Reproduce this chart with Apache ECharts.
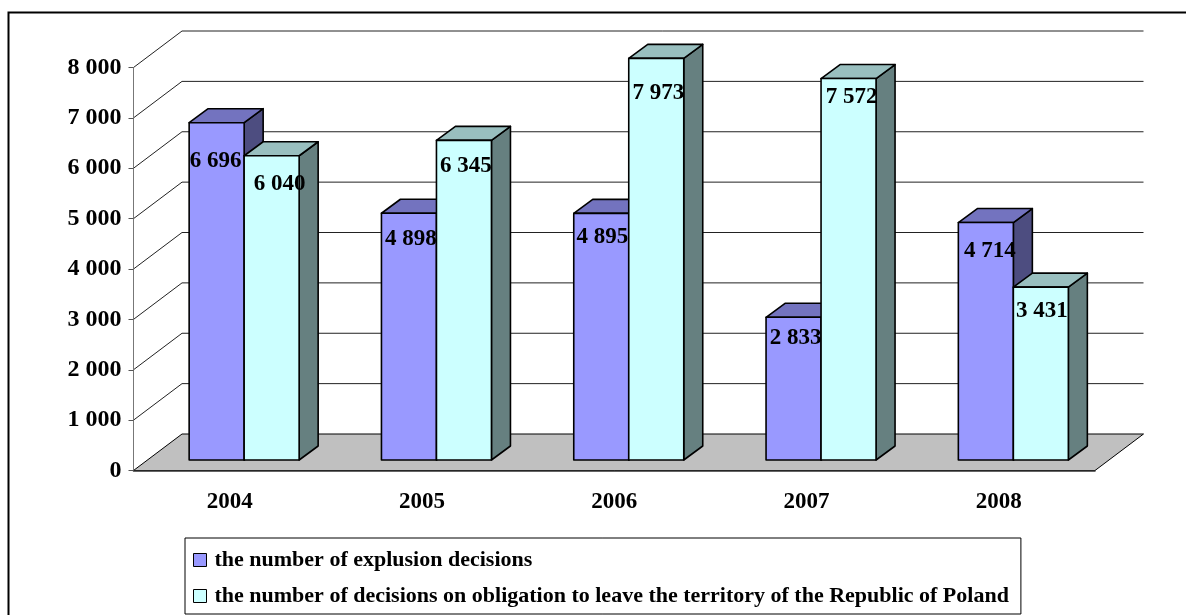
<!DOCTYPE html>
<html>
<head>
<meta charset="utf-8">
<title>Decisions 2004-2008</title>
<script src="https://cdn.jsdelivr.net/npm/echarts@6/dist/echarts.min.js"></script>
<style>
  html, body { margin: 0; padding: 0; background: #fff; }
  #chart { width: 1186px; height: 615px; }
</style>
</head>
<body>
<div id="chart"></div>
<script>
const categories = ['2004', '2005', '2006', '2007', '2008'];
const expulsionDecisions = [6696, 4898, 4895, 2833, 4714];
const obligationDecisions = [6040, 6345, 7973, 7572, 3431];
const yTicks = [1000, 2000, 3000, 4000, 5000, 6000, 7000, 8000];
const expulsionName = 'the number of explusion decisions';
const obligationName = 'the number of decisions on obligation to leave the territory of the Republic of Poland';

// hand placed label offsets from the bar top centre [dx, dy], the original has them uneven
const expulsionLabelShift = [[-1, 38], [2, 26], [1, 24], [2, 21], [4, 29]];
const obligationLabelShift = [[8, 28], [2, 26], [2, 35], [3, 19], [1, 24]];

const FONT = '"Liberation Serif", "Times New Roman", serif';
const WALL_DX = 48.5, WALL_DY = -36.5; // depth of the floor
const BAR_W = 55, BAR_SHIFT_X = 14.5, BAR_SHIFT_Y = -10.5; // bars stand inside the floor
const BAR_DX = 19, BAR_DY = -14;

const chart = echarts.init(document.getElementById('chart'));

const formatNumber = v => String(v).replace(/\B(?=(\d{3})+$)/g, ' ');

function face(points, fill) {
    return {
        type: 'polygon',
        shape: { points },
        style: { fill, stroke: '#000', lineWidth: 1.6, lineJoin: 'round' }
    };
}

// one 3D bar series, side: -1 is left of the category centre, 0 is right of it
function barRenderer(side, colors, labelShift) {
    return (params, api) => {
        const i = api.value(0);
        const top = api.coord([i, api.value(1)]);
        const base = api.coord([i, 0]);
        const x0 = top[0] + BAR_SHIFT_X + side * BAR_W;
        const x1 = x0 + BAR_W;
        const y0 = top[1] + BAR_SHIFT_Y;
        const y1 = base[1] + BAR_SHIFT_Y;
        const shift = labelShift[i];
        return {
            type: 'group',
            children: [
                face([[x1, y0], [x1 + BAR_DX, y0 + BAR_DY], [x1 + BAR_DX, y1 + BAR_DY], [x1, y1]], colors.side),
                face([[x0, y0], [x0 + BAR_DX, y0 + BAR_DY], [x1 + BAR_DX, y0 + BAR_DY], [x1, y0]], colors.top),
                face([[x0, y0], [x1, y0], [x1, y1], [x0, y1]], colors.front),
                {
                    type: 'text',
                    z2: 10,
                    style: {
                        x: (x0 + x1) / 2 + shift[0],
                        y: y0 + shift[1],
                        text: formatNumber(api.value(1)),
                        fill: '#000',
                        font: 'bold 23px ' + FONT,
                        align: 'center',
                        verticalAlign: 'middle'
                    }
                }
            ]
        };
    };
}

const option = {
    animation: false,
    backgroundColor: '#fff',
    graphic: [{
        type: 'polyline',
        silent: true,
        shape: { points: [[8.5, 615], [8.5, 12.5], [1186, 12.5]] },
        style: { fill: 'none', stroke: '#000', lineWidth: 2 }
    }],
    legend: {
        data: [expulsionName, obligationName],
        orient: 'vertical',
        left: 185,
        top: 538,
        padding: [11, 12, 7, 8],
        itemGap: 14,
        itemWidth: 13,
        itemHeight: 13,
        icon: 'rect',
        borderColor: '#000',
        borderWidth: 1,
        backgroundColor: '#fff',
        itemStyle: { borderColor: '#000', borderWidth: 1 },
        selectedMode: false,
        textStyle: { fontFamily: FONT, fontWeight: 'bold', fontSize: 22, color: '#000', padding: [0, 0, 0, 3] }
    },
    grid: { left: 133.5, right: 91, top: 67.5, bottom: 144.5 },
    xAxis: {
        type: 'category',
        data: categories,
        z: 3,
        axisLine: { lineStyle: { color: '#333', width: 1.5 } },
        axisTick: { length: 6, lineStyle: { color: '#555' } },
        axisLabel: { margin: 20, fontFamily: FONT, fontWeight: 'bold', fontSize: 23, color: '#000' }
    },
    yAxis: {
        type: 'value',
        min: 0,
        max: 8000,
        interval: 1000,
        z: 3,
        splitLine: { show: false },
        axisLine: { show: true, lineStyle: { color: '#777' } },
        axisTick: { show: true, length: 5, lineStyle: { color: '#555' } },
        axisLabel: { margin: 12, fontFamily: FONT, fontWeight: 'bold', fontSize: 24, color: '#000', formatter: formatNumber }
    },
    series: [
        {
            // the floor
            type: 'custom',
            name: 'floor',
            silent: true,
            clip: false,
            data: [[0, 0]],
            encode: { x: 0, y: 1 },
            renderItem: (params, api) => {
                const r = params.coordSys;
                const b = r.y + r.height;
                const floor = face([
                    [r.x, b],
                    [r.x + WALL_DX, b + WALL_DY],
                    [r.x + r.width + WALL_DX, b + WALL_DY],
                    [r.x + r.width, b]
                ], '#C0C0C0');
                floor.style.lineWidth = 1;
                return floor;
            }
        },
        {
            // grid lines bent along the left wall and the back wall
            type: 'custom',
            name: 'wall',
            silent: true,
            clip: false,
            data: yTicks.map(v => [0, v]),
            encode: { x: 0, y: 1 },
            renderItem: (params, api) => {
                const r = params.coordSys;
                const y = api.coord([0, api.value(1)])[1];
                return {
                    type: 'polyline',
                    shape: {
                        points: [
                            [r.x, y],
                            [r.x + WALL_DX, y + WALL_DY],
                            [r.x + r.width + WALL_DX, y + WALL_DY]
                        ]
                    },
                    style: { fill: 'none', stroke: '#222', lineWidth: 1 }
                };
            }
        },
        {
            type: 'custom',
            name: expulsionName,
            clip: false,
            itemStyle: { color: '#9999FF' },
            data: expulsionDecisions.map((v, i) => [i, v]),
            encode: { x: 0, y: 1 },
            renderItem: barRenderer(-1, { front: '#9999FF', top: '#7373BF', side: '#4D4D80' }, expulsionLabelShift)
        },
        {
            type: 'custom',
            name: obligationName,
            clip: false,
            itemStyle: { color: '#CCFFFF' },
            data: obligationDecisions.map((v, i) => [i, v]),
            encode: { x: 0, y: 1 },
            renderItem: barRenderer(0, { front: '#CCFFFF', top: '#99BFBF', side: '#668080' }, obligationLabelShift)
        }
    ]
};

chart.setOption(option);
</script>
</body>
</html>
